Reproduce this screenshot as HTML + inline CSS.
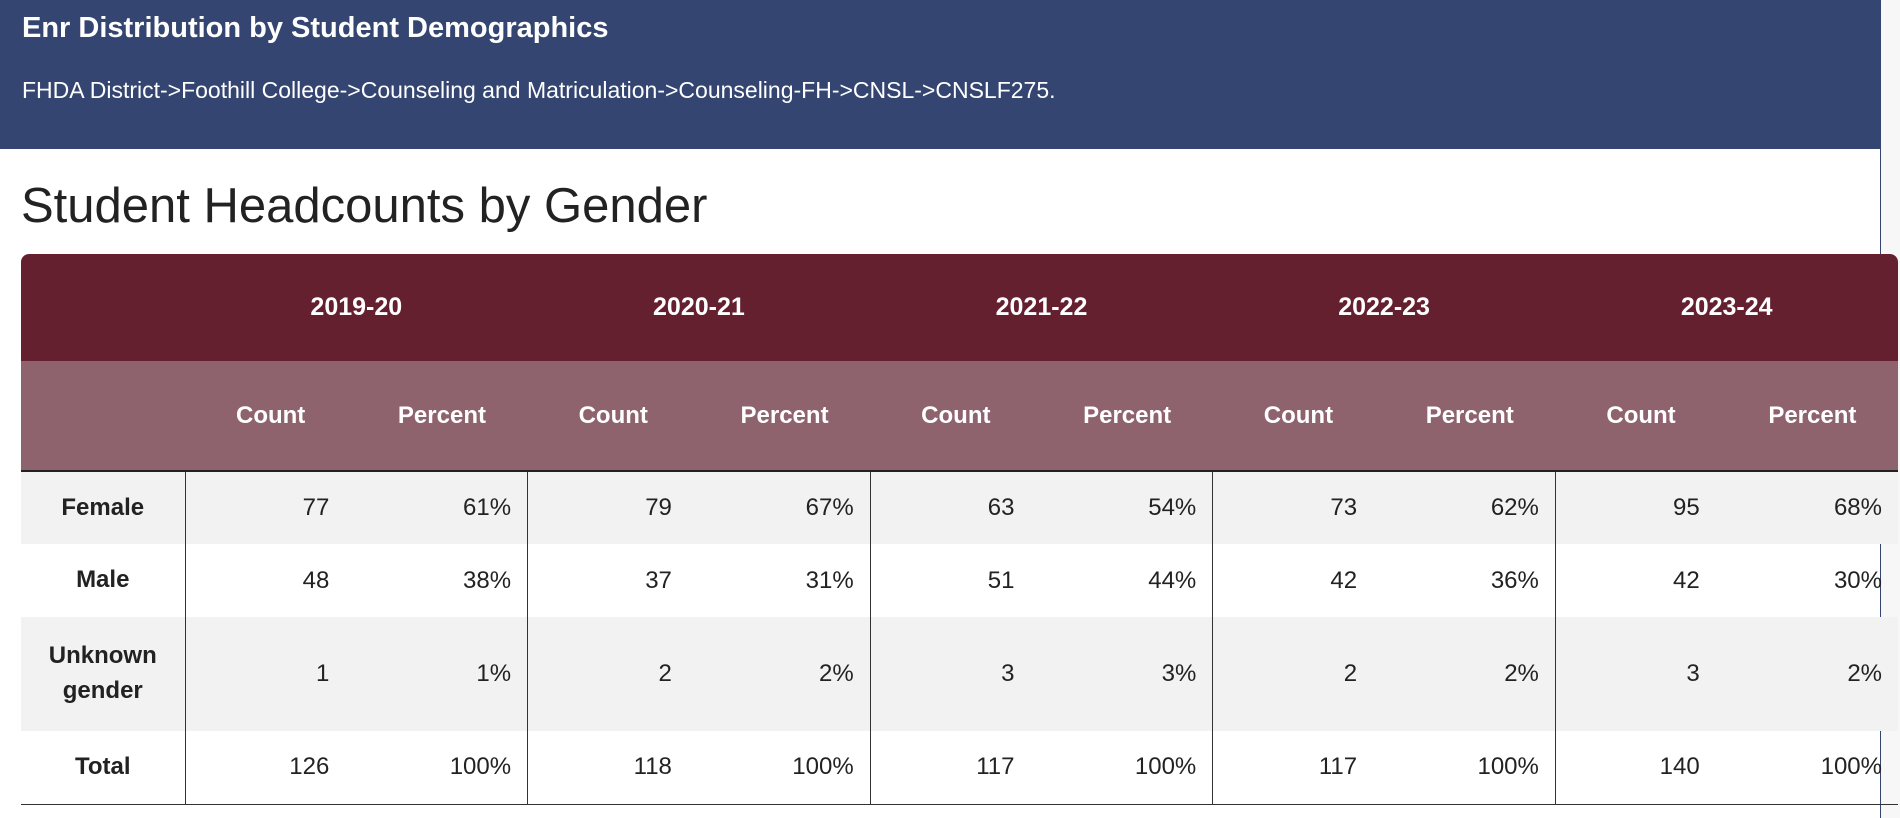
<!DOCTYPE html>
<html><head><meta charset="utf-8"><style>
body{margin:0;width:1900px;height:818px;background:#fff;font-family:"Liberation Sans",sans-serif;position:relative;overflow:hidden}
.hdr{position:absolute;left:0;top:0;width:1881px;height:149px;background:#334570;color:#fff}
.hdr .t{position:absolute;left:22px;top:12px;font-size:29px;font-weight:bold}
.hdr .s{position:absolute;left:22px;top:77px;font-size:23px}
.shadow{position:absolute;left:1881px;top:0;width:19px;height:818px;background:#f7f7f7}
.vl{position:absolute;left:1880px;top:149px;width:1px;height:669px;background:#334570}
h1{position:absolute;left:21px;top:178px;margin:0;font-size:49px;font-weight:normal;color:#222}
table{position:absolute;left:21px;top:254px;width:1877px;border-collapse:collapse;font-size:24px;color:#222}
td,th{padding:0}
.r1 th{background:#65202f;color:#fff;height:107px;font-weight:bold;text-align:center;font-size:25px}
.r1 th:first-child{border-top-left-radius:8px}.r1 th:last-child{border-top-right-radius:8px}
.r2 th{background:#8f636e;color:#fff;height:109px;font-weight:bold;text-align:center;border-bottom:2px solid #222}
tbody td{text-align:right;padding-right:16px}
tbody td.c{padding-right:27px}
tbody td.l{text-align:center;font-weight:bold;border-right:1px solid #333;padding:0;line-height:1.45}
tbody td.p{border-right:1px solid #333}
tbody tr:nth-child(odd){background:#f2f2f2}
tbody tr{height:73px}
tbody tr.u{height:114px}
tbody tr:last-child td{border-bottom:1px solid #333}
</style></head><body>
<div class="hdr"><div class="t">Enr Distribution by Student Demographics</div><div class="s">FHDA District-&gt;Foothill College-&gt;Counseling and Matriculation-&gt;Counseling-FH-&gt;CNSL-&gt;CNSLF275.</div></div>
<div class="shadow"></div><div class="vl"></div>
<h1>Student Headcounts by Gender</h1>
<table>
<colgroup><col style="width:164px"><col span="10" style="width:171.3px"></colgroup>
<thead>
<tr class="r1"><th></th><th colspan="2">2019-20</th><th colspan="2">2020-21</th><th colspan="2">2021-22</th><th colspan="2">2022-23</th><th colspan="2">2023-24</th></tr>
<tr class="r2"><th></th><th>Count</th><th>Percent</th><th>Count</th><th>Percent</th><th>Count</th><th>Percent</th><th>Count</th><th>Percent</th><th>Count</th><th>Percent</th></tr>
</thead>
<tbody>
<tr><td class="l">Female</td><td class="c">77</td><td class="p">61%</td><td class="c">79</td><td class="p">67%</td><td class="c">63</td><td class="p">54%</td><td class="c">73</td><td class="p">62%</td><td class="c">95</td><td>68%</td></tr>
<tr><td class="l">Male</td><td class="c">48</td><td class="p">38%</td><td class="c">37</td><td class="p">31%</td><td class="c">51</td><td class="p">44%</td><td class="c">42</td><td class="p">36%</td><td class="c">42</td><td>30%</td></tr>
<tr class="u"><td class="l">Unknown<br>gender</td><td class="c">1</td><td class="p">1%</td><td class="c">2</td><td class="p">2%</td><td class="c">3</td><td class="p">3%</td><td class="c">2</td><td class="p">2%</td><td class="c">3</td><td>2%</td></tr>
<tr><td class="l">Total</td><td class="c">126</td><td class="p">100%</td><td class="c">118</td><td class="p">100%</td><td class="c">117</td><td class="p">100%</td><td class="c">117</td><td class="p">100%</td><td class="c">140</td><td>100%</td></tr>
</tbody>
</table>
</body></html>
